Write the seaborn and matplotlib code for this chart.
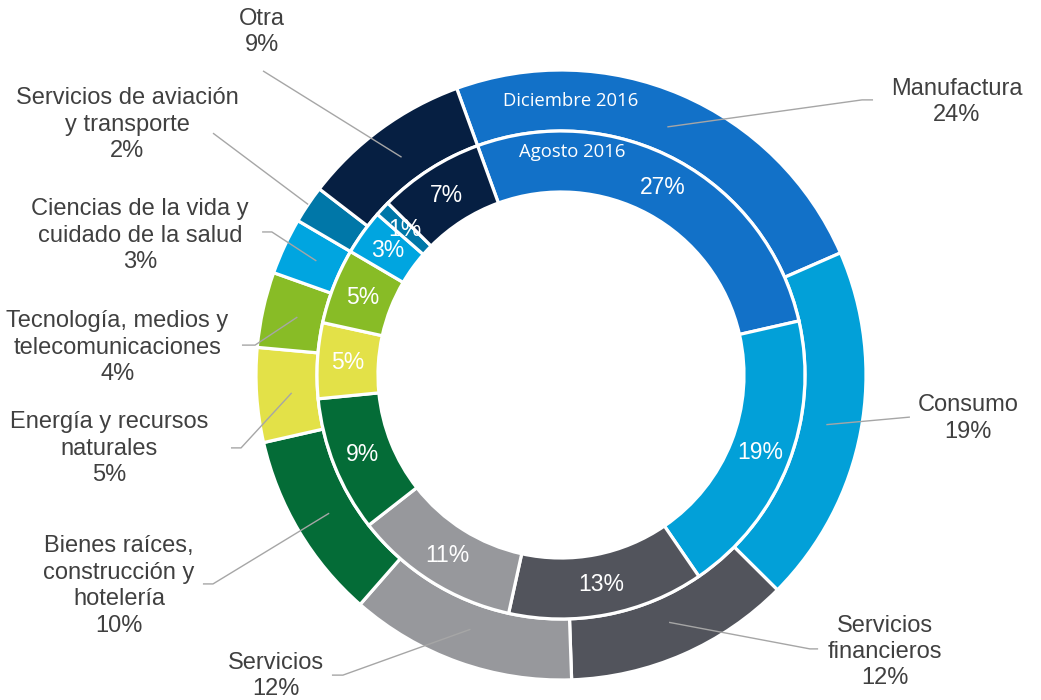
import numpy as np
import matplotlib
matplotlib.use("Agg")
import matplotlib.pyplot as plt
import seaborn as sns

# ---- data ----
categories = ["Manufactura", "Consumo", "Servicios\nfinancieros", "Servicios",
              "Bienes raíces,\nconstrucción y\nhotelería", "Energía y recursos\nnaturales",
              "Tecnología, medios y\ntelecomunicaciones", "Ciencias de la vida y\ncuidado de la salud",
              "Servicios de aviación\ny transporte", "Otra"]
dic_2016 = [24, 19, 12, 12, 10, 5, 4, 3, 2, 9]   # outer ring
ago_2016 = [27, 19, 13, 11, 9, 5, 5, 3, 1, 7]    # inner ring
series_names = ["Diciembre 2016", "Agosto 2016"]
colors_hex = ["#1271C8", "#02A0D8", "#52545C", "#97989C", "#046C37",
              "#E3E148", "#88BC26", "#00A5E0", "#0077A8", "#061F42"]

# ---- layout (label block centres / elbow points, in axes data units) ----
label_pos = [(1.298, 0.895), (1.334, -0.143), (1.062, -0.908), (-0.934, -0.987),
             (-1.449, -0.692), (-1.482, -0.241), (-1.454, 0.090), (-1.380, 0.456),
             (-1.423, 0.821), (-0.980, 1.125)]
leader_end = [[(0.987, 0.902), (1.023, 0.902)],
              [(1.144, -0.138)],
              [(0.816, -0.898), (0.843, -0.898)],
              [(-0.715, -0.984), (-0.751, -0.984)],
              [(-1.141, -0.685), (-1.174, -0.685)],
              [(-1.049, -0.239), (-1.082, -0.239)],
              [(-1.003, 0.098), (-1.046, 0.098)],
              [(-0.948, 0.469), (-0.980, 0.469)],
              [(-1.141, 0.793)],
              [(-0.977, 0.997)]]
leader_r = [0.885] * 8 + [1.0, 0.885]

sns.set_theme(style="white")
plt.rcParams['font.family'] = ['Liberation Sans', 'DejaVu Sans']
palette = sns.color_palette(colors_hex)

W, H = 1041, 700
fig = plt.figure(figsize=(W / 100, H / 100), dpi=100)
cx, cy, R = 561, 375, 305
ax = fig.add_axes([(cx - R) / W, (H - cy - R) / H, 2 * R / W, 2 * R / H])
ax.set_xlim(-1, 1)
ax.set_ylim(-1, 1)
ax.set_aspect('equal')
ax.axis('off')

start = 110
wp = dict(edgecolor='white', linewidth=2.3)
outer, _ = ax.pie(dic_2016, radius=1.0, startangle=start, counterclock=False,
                  colors=palette, wedgeprops=dict(width=0.2, **wp))
inner, _ = ax.pie(ago_2016, radius=0.8, startangle=start, counterclock=False,
                  colors=palette, wedgeprops=dict(width=0.2, **wp))
ax.set_xlim(-1, 1)
ax.set_ylim(-1, 1)

txt_color = '#404040'
line_color = '#A6A6A6'

# inner ring percentage labels
for w, v in zip(inner, ago_2016):
    ang = np.deg2rad((w.theta1 + w.theta2) / 2)
    ax.text(0.7 * np.cos(ang), 0.7 * np.sin(ang), f"{v}%", ha='center', va='center',
            color='white', fontsize=16.5)

# outer labels with leader lines
for w, cat, v, pos, ends, r in zip(outer, categories, dic_2016, label_pos, leader_end, leader_r):
    ang = np.deg2rad((w.theta1 + w.theta2) / 2)
    pts = [(r * np.cos(ang), r * np.sin(ang))] + ends
    xs, ys = zip(*pts)
    ax.plot(xs, ys, color=line_color, lw=1.0, clip_on=False, solid_capstyle='butt')
    ax.text(pos[0], pos[1], f"{cat}\n{v}%", ha='center', va='center', multialignment='center',
            color=txt_color, fontsize=17, linespacing=1.26, clip_on=False)

# series names
ax.text(0.033, 0.898, series_names[0], ha='center', va='center', color='white',
        fontsize=13.3, family=['Open Sans', 'DejaVu Sans'])
ax.text(0.036, 0.731, series_names[1], ha='center', va='center', color='white',
        fontsize=13.3, family=['Open Sans', 'DejaVu Sans'])

fig.savefig("out.png", dpi=100)
